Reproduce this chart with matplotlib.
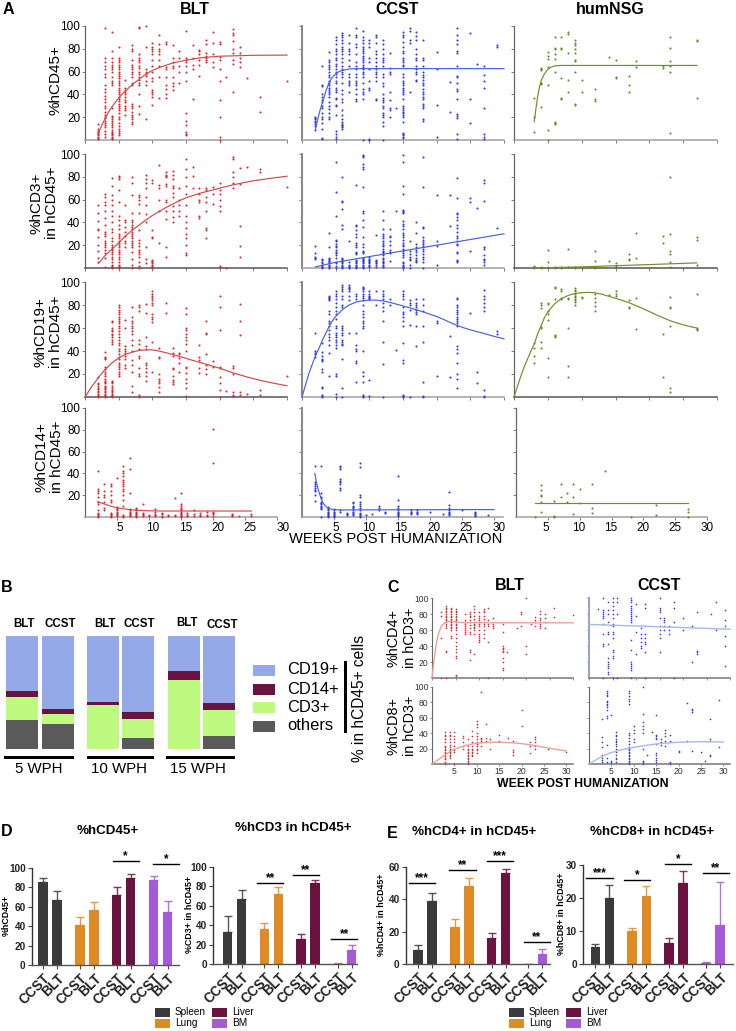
import matplotlib
matplotlib.use("Agg")
import matplotlib.pyplot as plt
from matplotlib.patches import Rectangle
from matplotlib.transforms import ScaledTranslation

plt.rcParams['font.family'] = ['Liberation Sans', 'DejaVu Sans']

# ---------- Panel A scatter data: (week, values) ----------
BLT_CD45 = [(2,[1,2,3,4,5,6,7,8,10,14]),(3,[3,5,8,11,13,15,17,19,20,22,25,28,30,33,36,39,42,45,48,55,58,62,65,68,72,98]),
 (4,[1,2,3,4,5,6,7,9,11,13,15,17,18,20,21,28,48,50,52,55,60,62,64,66,68,72,78,95]),
 (5,[4,6,8,10,12,15,18,20,24,26,28,30,32,34,36,38,40,42,44,46,48,50,52,54,56,58,60,62,64,66,68,70,72,82]),
 (6,[22,26,28,30,33,35,38,40,42,44,46,53]),(7,[14,16,18,20,22,25,28,30,32,48,50,55,58,60,62,64,66,70,78,80,83]),
 (8,[23,30,40,48,50,53,55,58,60,63,65,68,70,72,75,98,99]),(9,[18,48,52,56,58,60,62,82,100]),
 (10,[31,38,40,42,44,52,54,60,65,70,75,78,80,82,85]),(11,[37,55,65,70,75,78,80,84,92]),(12,[37,40,45,48,55,62,64,84,86]),
 (13,[44,47,50,55,63,65,68,72,83]),(14,[50,60,65,72,78]),(15,[4,5,7,13,17,24,52,60,65,68,70,72,96]),(16,[36,62,66,72,83]),
 (17,[56,66,70,75,78,79]),(18,[68,70,72,74,76,84,88]),(19,[64,68,75,85,95]),(20,[0,3,20,35,52,62,70,73,84,86]),(21,[55]),
 (22,[42,67,70,76,80,87,92,94,97]),(23,[64,68,72,76,82]),(24,[54]),(26,[25,38]),(30,[52])]
BLT_CD3 = [(2,[5,9,15,20,27,33,34,41,48,55]),(3,[1,9,13,16,18,20,22,24,28,30,32,38,44,50,55,58,62,65]),
 (4,[0,1,2,3,5,8,10,12,14,16,17,18,20,24,26,32,34,40,46,50,55,60,64,72,79]),
 (5,[0,1,2,3,5,8,10,12,14,16,18,20,22,24,26,28,30,34,38,42,46,58,68,78,80,81]),(6,[18,22,24,28,32,36,40,42,55]),
 (7,[0,3,8,14,18,20,22,24,26,28,30,32,34,36,38,40,42,48,64,75,80]),(8,[0,2,5,10,12,14,16,19,22,25,33,48,56,60,62,64]),
 (9,[4,8,18,40,47,55,62,70,75,78,82]),(10,[0,1,2,3,4,5,6,7,26,27,33,75,77]),(11,[22,50,60,70,73,90]),
 (12,[10,18,43,50,58,60,72,74,80,81,82,84]),(13,[40,45,50,54,62,66,70,72,78,82,85]),(14,[46,50,55,60,70]),
 (15,[11,13,20,26,30,35,40,46,55,65,72,80,87,96]),(16,[70,81,89]),(17,[44,46,58,60,65,70]),(18,[26,33,35,50,58,62,68,70]),
 (19,[56,65,71]),(20,[1,2,50,54,60,65,68,75]),(21,[0]),(22,[70,75,80,84,96,97]),(23,[10,19,37,74,88]),(24,[89]),(26,[84,87]),(30,[71])]
BLT_CD19 = [(2,[0,1,2,3,4,5,7,8,10,11,12,17]),(3,[0,1,2,3,4,5,7,8,9,10,12,13,14,16,18,20,22,24,26,33,34,35,39]),
 (4,[0,1,2,3,4,5,6,8,10,12,13,14,46,48,50,52,54,55,57,58,60,65,66]),
 (5,[18,20,22,24,26,28,30,33,35,37,40,42,45,47,50,52,55,57,60,62,64,66,68,70,72,74,76,78,80]),
 (6,[25,28,33,36,38,40,42,44,60,67]),(7,[4,10,22,28,32,40,45,50,55,57,60,62,64,66,70,78]),(8,[0,2,18,20,25,34,36,42,46,50,75,78,80]),
 (9,[14,18,22,25,28,30,42,44,52,73,81]),(10,[22,48,65,68,70,72,80,82,84,86,88,90,92]),(11,[4,9,12,14,16,20,34,35,43]),(12,[73,82]),
 (13,[11,13,15,18,24,25,36,38,43]),(14,[22,30,34,37,38]),(15,[1,8,12,16,21,25,26,40,46,50,52,55,58,60,72,77]),(17,[21,25,32,35,45]),
 (18,[20,24,28,37,55,56,66]),(19,[26,31]),(20,[0,6,12,17,25,26,58,78,88]),(21,[5]),(22,[1,2,4,20,25,27]),(23,[2,4,54,66,81]),(24,[3]),(26,[2,6]),(30,[18])]
BLT_CD14 = [(2,[0,1,2,3,4,6,12,14,18,22,24,26,42]),(3,[6,8,14,18,20,24,30]),(4,[0,1,2,3,4,14,16,20,24,28,30]),(5,[1,2,3,4,5,6,7,8,9,36]),
 (6,[0,1,2,10,16,20,24,26,28,30,32,34,38,40,42,47]),(7,[1,2,3,4,5,6,7,22,44,54]),(8,[0,1,2,3,4,5,6,7,8]),(9,[1,2,3,4,12]),(10,[1,2]),
 (11,[1,2,3,5,7]),(12,[0,1,3,4]),(13,[1,2]),(14,[1,2,17]),(15,[0,1,2,3,4,5,6,7,8,10,12,22]),(16,[1,2,4]),(17,[1,3,6]),(18,[1,2,4]),
 (19,[1,2,5]),(20,[1,3,4,5,50,81]),(23,[1,2,3]),(24,[1]),(26,[1,3])]

CCST_CD45 = [(2,[9,12,14,16,17,18,19,20]),(3,[1,2,10,15,18,20,24,28,30,33,35,38,40,47,48,65]),
 (4,[18,20,24,27,30,33,38,40,42,44,46,48,50,52,55,57,60,62,64,66,68,70,77]),
 (5,[1,3,5,8,22,30,31,36,37,42,44,46,50,52,55,58,60,62,65,67,70,72,75,78,80,84,88,90]),
 (6,[10,11,12,13,14,16,18,22,26,33,36,40,44,50,55,58,60,62,65,68,72,75,78,80,82,85,88,90,92,94]),
 (7,[42,48,50,52,55,58,65,70,75,78,80,85,92]),(8,[34,36,40,45,48,50,52,55,58,62,65,68,75,82,84,90,92,98]),
 (9,[0,36,40,42,45,50,55,58,60,62,64,66,68,70,72,74,76,78,80,82,85,88,90,96]),(10,[0,1,44,46,52,62,68,72,82,85,88]),
 (11,[35,36,52,55,58,60,62,65,68,72,75,78,85,90,92]),(12,[0,12,16,20,22,24,28,30,33,35,37,40,47,50,55,58,65,68,70,72,75,80,84,88]),
 (13,[20,26,28,35,42,58,60,63,76]),(14,[28]),
 (15,[2,3,4,5,6,16,20,22,24,25,26,28,30,36,40,42,44,46,48,50,52,55,58,65,66,68,70,72,76,78,82,86,90,92,95]),(16,[42,85,88,96,98]),
 (17,[52,53,58,60,62,65,70,72,75,80,88,91,95]),(18,[17,18,28,30,32,36,38,40,42,45,48,50,53,55,57,60,65,70,72,88]),(20,[3,31,62,77]),
 (22,[25,51]),(23,[1,5,19,21,23,36,43,45,50,55,56,65,76,78,84,88,92,98]),(25,[15,36,94]),(26,[67]),(27,[1,3,5,28,46,52,57,65]),(29,[82,83])]
CCST_CD3 = [(2,[8,9,10,13,19]),(3,[0,1,2,3,4,5,7,8]),(4,[0,1,2,3,4,5,6,7,8,9,18,31]),(5,[0,2,4,5,9,11,13,14,16,18,19,21,24,25,46,67,93]),
 (6,[0,1,2,3,4,5,6,7,8,9,34,38,52,58,59,80]),(7,[0,1,2,3,5,24]),(8,[0,1,2,3,4,5,6,7,12,13,14,18,20,22,27,30,33,37,38,73]),
 (9,[0,1,2,3,4,5,6,7,8,9,13,14,15,18,21,27,36,42,48,50,71,87,89,91,97,98,99]),(10,[1,2,3,4,5,6,7,8,10]),(11,[1,3,4,5,6,7,29]),
 (12,[1,2,3,4,5,6,8,9,11,13,14,15,17,19,20,22,24,26,28,30,34,42,50]),(13,[6,13,14,16,20,24,27,28,34]),(14,[50]),
 (15,[0,1,2,3,4,5,10,11,13,15,17,19,20,22,25,27,29,31,34,37,39,41,48,49,50,51,65,72,93,99]),(16,[0,3,7,8,10,12,15,24]),
 (17,[5,6,7,9,11,14,16,18,21,31,40]),(18,[0,5,8,10,12,15,17,19,21,23,25,27,35,36,71,97]),(20,[3,19,24,64]),(22,[37,64]),
 (23,[5,6,7,13,14,20,21,24,26,28,32,35,38,42,45,47,48,61,79]),(25,[15,58,61]),(26,[53]),(27,[3,5,7,8,11,17,18,59,75,77]),(29,[35])]
CCST_CD19 = [(2,[35,37,38,40,56]),(3,[0,1,2,8,9,22,24,31,32,33,36,39,47]),(4,[18,38,45,50,52,55,58,62,64,66,72,75,84,85,86,87,88]),
 (5,[0,3,18,20,43,45,48,50,52,54,56,60,62,68,72,75,78,82,85,88,90,92]),(6,[0,8,33,45,46,48,50,54,56,58,60,62,78,80,85,88,92,94,96,97]),
 (7,[56,84,88,92,94,95,96,97]),(8,[13,30,31,40,42,45,56,85,88,90]),
 (9,[0,1,2,13,18,22,40,60,62,64,66,70,72,75,80,84,86,88,90,92,94,95,96]),(10,[1,15,85,86,87,88,90,92]),(11,[80,92]),
 (12,[0,29,48,66,75,78,82,85,88,90,92]),(13,[80,85]),(14,[41]),(15,[0,1,2,30,32,47,62,66,70,72,74,78,85,88,90,92]),(16,[0,63,76,80,82,84]),
 (17,[44,62,72,74,76,78,80,82,85]),(18,[0,1,13,48,62,75,80,85]),(20,[18,64,66]),(22,[17,53]),
 (23,[8,16,20,30,38,42,44,62,64,66,68,70,72,74,76,78,80,85,86]),(25,[73]),(26,[12,22]),(27,[0,1,6,75,78,82,85,88,93]),(29,[55,57])]
CCST_CD14 = [(2,[15,20,24,25,27,28,30,32,47]),(3,[0,7,8,9,10,12,13,14,17,18,22,47]),(4,[0,1,2,3,4,5,6,7,8,9]),(5,[0,1,2,3,4,5,6,7]),
 (6,[5,6,25,27,30,32,33,35,44,46,47]),(7,[2,3,4]),(8,[2,3,4,5,6,8,9,10,13,14]),(9,[0,1,2,3,4,6,8,10,12,14,18,20,46,50]),(10,[2]),(11,[3]),
 (12,[6,8,10]),(13,[4,5]),(15,[1,2,3,4,5,6,8,10,16,38]),(17,[3,4,5,6]),(18,[3,4,5,6]),(20,[5]),(22,[3]),(23,[2,3,4,5,6,8,11,23]),(25,[6]),
 (27,[1,2,3,4,5]),(29,[2])]

NSG_CD45 = [(3,[7,20,37]),(4,[29,49,50,61,62,63]),(5,[0,9,48,64,71,74,77]),(6,[14,15,16,60,71,75,80,81,90]),(7,[36,37,54,80,81,90]),
 (8,[42,53,76,93,95]),(9,[31,32,60,69,70,76,80,83,85,88]),(10,[42,53]),(12,[34,36,45]),(14,[73]),(15,[54,55,70]),(17,[42,48,56]),(18,[64,69]),
 (22,[63,65]),(23,[6,60,65,69,81,90]),(27,[37,87,88])]
NSG_CD3 = [(3,[0,1,2]),(4,[0,1]),(5,[0,1,5,16]),(6,[0,1]),(7,[0,1]),(8,[1,17]),(9,[0,1]),(10,[0]),(12,[0,1,6,15]),(14,[6]),(15,[1,2,4]),
 (17,[7,8,12]),(18,[9,31]),(22,[22,28]),(23,[1,5,12,15,30,80]),(27,[3,25,27])]
NSG_CD19 = [(3,[30,36,43,47]),(4,[43,48,60,61,77,80,82]),(5,[17,34,67,72,75,81,82]),(6,[52,53,54,85,95,96]),(7,[85,86,92,94]),(8,[17,27,60,85,86]),
 (9,[80,83,84,85,87,88,90,92,93,95]),(10,[86,87]),(12,[75,79,83,86,90]),(14,[89]),(15,[88,90,92]),(17,[77,78,84]),(18,[59,86]),(22,[17,55]),
 (23,[4,8,62,77,78,87]),(27,[58,59,60,90])]
NSG_CD14 = [(3,[0]),(4,[5,14,19,20,25,29]),(6,[0,1,15]),(7,[18,30]),(8,[14,22]),(9,[3,18,30]),(10,[13,26]),(12,[4,8,30]),(14,[42]),(18,[0]),
 (22,[2,11]),(27,[0,5,7])]

# ---------- Panel A fitted curves ----------
C_BLT_CD45 = ([2,2.5,3,3.5,4,5,6,7,8,9,10,11,12,13,15,17,20,25,30],[6,13,19,24.5,29,37,43,48.5,53,57.5,61,63.5,65.5,67.5,70,72,73.5,74.3,74.5])
C_BLT_CD3 = ([2,3,4,5,6,7,8,9,10,11,12,13,14,15,16,17,18,20,22,25,28,30],[4,11,16.5,22,28,33,37.5,42,46,49.5,53,56,59,61.5,63.5,65.5,67,70,73,76.5,79,80.5])
C_BLT_CD19 = ([0,.5,1,1.5,2,3,4,5,6,7,8,9,10,11,12,13,14,15,16,18,20,22,24,26,28,30],[0,4.5,9,13,17,24,29.5,34,37,39,40.5,41,41,40,38.5,37,35.3,33.6,31.8,28.5,25,21,17.5,14.5,12,9.8])
C_BLT_CD14 = ([2,3,4,5,6,7,8,10,12,15,26],[14,12,10,8.5,7.5,6.8,6.2,5.7,5.5,5.5,5.5])
C_CCST_CD45 = ([2,2.25,2.5,2.75,3,3.5,4,4.5,5,5.5,6,7,8,30],[9,16,22,27.5,32,42,50,55,58,60,61,62.3,62.6,62.6])
C_CCST_CD3 = ([2,5,10,15,20,25,30],[1,5,10,15,20,25,30])
C_CCST_CD19 = ([0,.5,1,1.5,2,2.5,3,3.5,4,4.5,5,6,7,8,9,10,11,12,13,14,15,16,17,18,19,20,21,22,23,24,25,26,27,28,29,30],
 [0,10,20,28,36,42,49,55,61,66,70,76,80,82.5,83.7,84.2,84.3,83.6,82.3,80.8,79.2,77.5,75.8,74,72,70,67.5,64.8,62.3,60.2,58.4,56.8,55.3,53.6,52,50.6])
C_CCST_CD14 = ([2,2.25,2.5,2.75,3,3.25,3.5,3.75,4,4.5,5,6,30],[40,32,26,21,17,13.5,11,9.5,8.6,7.3,6.8,6.5,6.8])
C_NSG_CD45 = ([3,3.25,3.5,3.75,4,4.5,5,5.5,6,7,27],[16,28,38,46,52,58,62,64,65,65.4,65.4])
C_NSG_CD3 = ([3,5,10,15,20,27],[0,0.3,1,2,3,4.5])
C_NSG_CD19 = ([0,.5,1,1.5,2,2.5,3,3.5,4,4.5,5,6,7,8,9,10,11,12,13,14,15,16,17,18,19,20,21,22,23,24,25,26,27],
 [0,9,18,26,33,40,46,55,62,69,74,81,85.5,88.3,90,90.7,91,90.6,89.3,87.6,85.8,84,82,79.5,77,74.3,71.5,69,66.5,64.5,62.8,61.3,60])
C_NSG_CD14 = ([3,27],[13.3,13.3])

# ---------- Panel B ----------
B_labels = ['BLT','CCST','BLT','CCST','BLT','CCST']
B_others = [25.7,22.1,0,10,0,11.5]
B_cd3 = [20.6,8.6,38.9,16.2,61,23]
B_cd14 = [5.3,4.4,2.7,6.8,8,6.5]
B_cd19 = [48.4,64.9,58.4,67,31,59]
B_weeks = ['5 WPH','10 WPH','15 WPH']

# ---------- Panel C ----------
C4_BLT = [(2,[0,50,78,82]),(3,[0,33,34,62,65,68,70,72,74,76,78,80,82,84,86,88,90]),(4,[50,52,60,62,64,66,68,70,72,74,76,78,80,82,84,86,88]),
 (5,[3,4,25,28,32,36,40,45,50,55,60,62,64,66,68,70,72,74,76,78,80,82,84,86]),(7,[55,58,60,62,65,68,70,72,80]),(8,[23,33,35,55,58,62,66,70,72,76,78,80,82]),
 (9,[30,55,60,62,64,66,68,70,74,78,82,86,90]),(10,[45,47,50,52,55,60,65,68,70,72,75,78,82]),(11,[50,55,60,65,68,70,74,78,82,84,86]),
 (12,[0,45,65,68,72,88]),(13,[62,65,68,75]),(15,[10,12,20,25,32,34,36,38,40,57,67]),(16,[32]),(18,[62]),(19,[65,80,82]),(20,[30,40,100]),(21,[68]),
 (22,[65,70,72,76]),(23,[62,65,68,72,75,80,84]),(24,[62,70,75,80]),(26,[76,88]),(30,[79])]
C4_CCST = [(2,[86]),(3,[0,40,42,55,68,75,78,80,83,85,100]),(4,[5,8,12,15,18,20,25,42,55,58,70,80,85,95]),(5,[0,25,28,32,35,50,55,58,65,68,75,80,85,90,95,100]),
 (6,[0,100,95,80]),(9,[0,10,12,15,18,20,35,48,70,72,75,78,80,82,85,88,90,95,98,100]),(10,[30,58,78,92]),(11,[38,40,45,50,55,62]),(12,[0,33,42,45,50,55,65,88,92]),
 (15,[32,50,55,60,65,75,82,85,87,100]),(16,[60,65,70,72,75]),(17,[55,60,65]),(18,[0,70,87,95]),(20,[60,75]),(22,[20,65]),(23,[30,32,34,82]),(26,[80]),(27,[60,95]),
 (29,[15,40,52,65,72,85])]
C8_BLT = [(3,[0,3,6,8,10,12,14,16,18,20,22,24,28,32,36,38,42]),(4,[8,10,12,14,16,18,20,22,25,28,32,36,38,42]),(5,[0,16,18,20,24,28,32,36,42]),(7,[20,24,28,34,36]),
 (8,[0,2,4,6,8,10,12,14,16,18,20,24,32]),(9,[10,12,14,16,18,20,24,28,36,43]),(10,[14,18,20,24,26,28,32,36,40,48,52,56]),(11,[24,28,30,32,34,94]),(12,[30,34,52]),
 (13,[20,28,32]),(15,[30,38]),(17,[34]),(18,[12,16,18,30]),(20,[50,70]),(22,[14,24,28]),(23,[20,24,28,32,35]),(26,[20]),(30,[15])]
C8_CCST = [(3,[2,5,8,12,22,28,35,58]),(4,[2,8,25,60,62,70,74,76,78,80,82,88,90,92,95]),(5,[2,4,64]),(6,[2,6,8,12,16,20,24,26,28,30,32,36,38,41]),
 (9,[0,2,4,6,8,10,12,14,16,18,20,22,26,30,34,38,40,78,82,85,88,92,95]),(10,[28,32,40,44,50]),(12,[0,2,4,20,40,45,50,55,65,100]),(13,[12]),(14,[41]),
 (15,[2,5,8,12,14,26,32,34,36,38,64]),(16,[25,28,32]),(17,[24,30,36,40,44]),(18,[0,3,30,38]),(20,[15,17]),(22,[30,79]),(23,[17,67,70,72]),(25,[16]),(26,[4]),
 (27,[10,12,30,33,59]),(29,[22,83])]
CC4_BLT = ([0,.25,.5,.75,1,1.25,1.5,2,2.5,3,4,5,7,30],[0,14,25,36,45,52,57,65,68,70,71,70,69,69])
CC4_CCST = ([0,10,20,30],[67,65,63,61])
CC8_BLT = ([0,1,2,3,4,5,6,7,8,9,10,12,14,16,18,20,22,25,28,30],[0,4,8,12,16,19,21.2,23,24.6,26,27,28,28.3,28,27.5,26.5,24.8,21.8,18.8,17])
CC8_CCST = ([0,1,2,3,4,5,6,7,9,12,15,18,20,25,30],[0,3.5,7,10,12.7,15,16.5,18,20.5,23.5,26,27.5,28.2,29,28.5])

# ---------- Panels D / E ----------
TISSUES = ['Spleen','Lung','Liver','BM']
D1_val = [86,67,41,57,72,90,88,55]
D1_top = [90,76,49,65,80,94,92,66]
D2_val = [33,67,36,72,26,84,0.5,14]
D2_top = [49,76,42,79,31,87,1,20]
E1_val = [8.5,39,23,48,16,56,0.2,6]
E1_top = [12,44,28,53,19,58.5,0.3,9]
E2_val = [5.3,20,10,20.7,6.5,24.4,0.3,11.7]
E2_top = [6,24,11,23.7,8,28.3,0.5,25]
D1_sig = [(2,107.5,'*',-0.29),(3,104.5,'*',-0.05)]
D2_sig = [(1,84,'**',-0.52),(2,91.5,'**',-0.57),(3,25.6,'**',-0.45)]
E1_sig = [(0,50,'***',-0.67),(1,58,'**',-0.38),(2,63.7,'***',-0.36),(3,13.5,'**',-0.33)]
E2_sig = [(0,26,'***',-0.64),(1,25.6,'*',-0.57),(2,30.4,'*',-0.29),(3,27.7,'**',-0.21)]

W, H = 736, 1031
fig = plt.figure(figsize=(W/100, H/100), dpi=100)
RED, BLUE, GREEN = '#D9262B', '#2A38E6', '#5C8A1E'
LRED, LBLUE, LGREEN = '#CF4A48', '#4A5FDC', '#6E8F2A'
TISSUE_COL = ['#3A3A3A', '#E08A24', '#6B1340', '#A55BD9']

def ax_px(x0, x1, ytop, ybase):
    return fig.add_axes([x0/W, 1-ybase/H, (x1-x0)/W, (ybase-ytop)/H])

def ftext(x, y, s, **kw):
    kw.setdefault('ha', 'center'); kw.setdefault('va', 'center')
    return fig.text(x/W, 1-y/H, s, **kw)

def flat(cols):
    xs, ys = [], []
    for w, vals in cols:
        xs += [w]*len(vals); ys += vals
    return xs, ys

def scatter_panel(ax, cols, curve, col, lcol, xlim=(0, 30), left='#777777', bottom='#999999', lw=1.0, cw=0.85, s=2.2):
    x, y = flat(cols)
    ax.scatter(x, y, s=s, c=col, linewidths=0, zorder=3, clip_on=False)
    ax.plot(curve[0], curve[1], color=lcol, lw=cw, zorder=4, clip_on=False)
    ax.set_xlim(*xlim); ax.set_ylim(0, 100)
    for sp in ('top', 'right'):
        ax.spines[sp].set_visible(False)
    ax.spines['left'].set_color(left); ax.spines['bottom'].set_color(bottom)
    ax.spines['left'].set_linewidth(lw); ax.spines['bottom'].set_linewidth(1.1)
    ax.set_xticks(range(0, 31, 5)); ax.set_yticks(range(20, 101, 20))
    ax.tick_params(length=2, width=0.6, color='#666666', labelbottom=False, labelleft=False, pad=1.5, labelsize=8.5)

rows = [(26,140),(154,268),(282,397),(408,517)]
colsA = [(85,287),(302,504),(514,717)]
dataA = [
 [(BLT_CD45,C_BLT_CD45),(CCST_CD45,C_CCST_CD45),(NSG_CD45,C_NSG_CD45)],
 [(BLT_CD3,C_BLT_CD3),(CCST_CD3,C_CCST_CD3),(NSG_CD3,C_NSG_CD3)],
 [(BLT_CD19,C_BLT_CD19),(CCST_CD19,C_CCST_CD19),(NSG_CD19,C_NSG_CD19)],
 [(BLT_CD14,C_BLT_CD14),(CCST_CD14,C_CCST_CD14),(NSG_CD14,C_NSG_CD14)],
]
pal = [(RED,LRED),(BLUE,LBLUE),(GREEN,LGREEN)]
row4 = [(85,277,(0,30),(2.4,0.12)),(302,503,(0,31.4),(1,0.13)),(516,707,(0,30),(-2,0.06))]
for r,(yt,yb) in enumerate(rows):
    for c,(x0,x1) in enumerate(colsA):
        xlim=(0,30)
        if r==3:
            x0,x1,xlim,(d0,d1)=row4[c]
        ax=ax_px(x0,x1,yt,yb)
        thick=(c==1)
        scatter_panel(ax,dataA[r][c][0],dataA[r][c][1],pal[c][0],pal[c][1],xlim=xlim,
                      left='#8A8A8A' if thick else '#666666',
                      bottom='#A0A0A0' if (r in (0,3) or c==1) else '#555555',lw=1.5 if thick else 0.9)
        if c==0:
            ax.tick_params(labelleft=True)
        if r==3:
            ax.set_xticks(range(5,31,5))
            ax.tick_params(labelbottom=True)
            ax.set_xticklabels([str(v) for v in range(5,31,5)])
            for lab,v in zip(ax.get_xticklabels(),range(5,31,5)):
                lab.set_transform(lab.get_transform()+ScaledTranslation((d0+d1*v)/100,0,fig.dpi_scale_trans))

ftext(195,9,'BLT',fontsize=11.5,fontweight='bold')
ftext(397,9,'CCST',fontsize=11.5,fontweight='bold')
ftext(610,9,'humNSG',fontsize=11.5,fontweight='bold')
ftext(55,80,'%hCD45+',rotation=90,fontsize=11)
ftext(44,203,'%hCD3+\nin hCD45+',rotation=90,fontsize=11,linespacing=1.1)
ftext(48,332,'%hCD19+\nin hCD45+',rotation=90,fontsize=11,linespacing=1.1)
ftext(49,457,'%hCD14+\nin hCD45+',rotation=90,fontsize=11,linespacing=1.1)
ftext(396,539,'WEEKS POST HUMANIZATION',fontsize=10.6)
for x,y,s in [(8,9,'A'),(7,587,'B'),(393,587,'C'),(7,832,'D'),(392,833,'E')]:
    ftext(x,y,s,fontsize=11.5,fontweight='bold')

# ---------- Panel B ----------
axB = ax_px(0,240,636,749)
centers = [22,57.5,103,138,183.5,218.5]
STACK_COL = ['#5A5A5A','#BEFA80','#6B1340','#95A8E8']
base=[0]*6
for vals,colr in zip([B_others,B_cd3,B_cd14,B_cd19],STACK_COL):
    axB.bar(centers,vals,width=32,bottom=base,color=colr,linewidth=0)
    base=[a+b for a,b in zip(base,vals)]
axB.set_xlim(0,240); axB.set_ylim(0,100); axB.axis('off')
for x,y,s in zip([24,60,105,139,187,222],[624,624,624,624,623,625],B_labels):
    ftext(x,y,s,fontsize=8.3,fontweight='bold')
for (a,b),cx,s in zip([(4,74),(87,154),(166,235)],[39,119,198],B_weeks):
    fig.add_artist(Rectangle((a/W,1-758.5/H),(b-a)/W,3/H,transform=fig.transFigure,color='black',lw=0))
    ftext(cx,769,s,fontsize=10.8)
for y,s,colr in zip([670,689,707,726],['CD19+','CD14+','CD3+','others'],STACK_COL[::-1]):
    fig.add_artist(Rectangle((253/W,1-(y+5.5)/H),22/W,11/H,transform=fig.transFigure,color=colr,lw=0))
    ftext(287,y,s,ha='left',fontsize=11.9)
fig.add_artist(Rectangle((343.5/W,1-733/H),3/W,72/H,transform=fig.transFigure,color='black',lw=0))
ftext(359,698,'% in hCD45+ cells',rotation=90,fontsize=11.2)

# ---------- Panel C ----------
PRED, PBLUE = '#E2A596', '#A6B8EC'
specC = [(C4_BLT,CC4_BLT,432,573,598,678,(0,30),RED,PRED),(C4_CCST,CC4_CCST,589,730,598,678,(0,30),BLUE,PBLUE),
         (C8_BLT,CC8_BLT,432,573,687,764,(0,31.5),RED,PRED),(C8_CCST,CC8_CCST,589,730,687,764,(0,31.5),BLUE,PBLUE)]
for i,(pts,cur,x0,x1,yt,yb,xl,col,lc) in enumerate(specC):
    ax=ax_px(x0,x1,yt,yb)
    scatter_panel(ax,pts,cur,col,lc,xlim=xl,s=1.4,left='#666666' if i!=1 else '#9AA6C0',bottom='#777777',
                  lw=0.8 if i!=1 else 1.5,cw=1.0)
    ax.tick_params(length=1.5,width=0.5,labelsize=6.2,pad=1,labelcolor='#333333')
    if i in (0,2):
        ax.tick_params(labelleft=True)
    if i>=2:
        ax.set_xticks(range(5,31,5)); ax.tick_params(labelbottom=True)
        ax.set_xticklabels([str(v) for v in range(5,31,5)])
ftext(510,585,'BLT',fontsize=11.5,fontweight='bold')
ftext(659,585,'CCST',fontsize=11.5,fontweight='bold')
ftext(402,638,'%hCD4+\nin hCD3+',rotation=90,fontsize=10.4,linespacing=1.22)
ftext(402,726,'%hCD8+\nin hCD3+',rotation=90,fontsize=10.4,linespacing=1.22)
ftext(583,784,'WEEK POST HUMANIZATION',fontsize=8.8,fontweight='bold')

# ---------- Panels D / E ----------
def bar_panel(x0,x1,yt,yb,vals,tops,ymax,ystep,xmin,xmax,sig,ylabel,ylx):
    ax=ax_px(x0,x1,yt,yb)
    pos=[g*2.62+k for g in range(4) for k in (0,1)]
    cols=[TISSUE_COL[g] for g in range(4) for k in (0,1)]
    ax.bar(pos,vals,width=0.67,color=cols,linewidth=0,zorder=2)
    for p,v,t,cl in zip(pos,vals,tops,cols):
        ax.errorbar([p],[v],yerr=[[0],[t-v]],color=cl,capsize=3,lw=1,capthick=1,fmt='none',zorder=1,alpha=0.85)
    ax.set_xlim(xmin,xmax); ax.set_ylim(0,ymax)
    ax.set_xticks(pos)
    ax.set_xticklabels(['CCST','BLT']*4,rotation=45,ha='right',va='top',rotation_mode='anchor',fontsize=9.8,fontweight='bold',color='#222222')
    ax.set_yticks(range(0,ymax+1,ystep))
    ax.set_yticklabels(ax.get_yticks(),fontsize=7.2,fontweight='bold',color='#222222')
    ax.tick_params(axis='x',length=3,width=0.8,pad=1.5,color='#444444')
    ax.tick_params(axis='y',length=3,width=0.8,pad=1.5,color='#444444')
    for sp in ('top','right'):
        ax.spines[sp].set_visible(False)
    ax.spines['left'].set_linewidth(1); ax.spines['left'].set_color('#333333')
    ax.spines['bottom'].set_linewidth(1); ax.spines['bottom'].set_color('#555555')
    for g,y,stars,sh in sig:
        a=g*2.62+sh; b=a+1.86
        ax.plot([a,b],[y,y],color='black',lw=1,clip_on=False,zorder=5)
        ax.text((a+b)/2,y-ymax*0.012,stars,ha='center',va='bottom',fontsize=8.5,fontweight='bold',clip_on=False,linespacing=1)
    ftext(ylx,(yt+yb)/2-1,ylabel,rotation=90,fontsize=6.4,fontweight='bold')
    return ax

bar_panel(32,179,868,965,D1_val,D1_top,100,20,-0.786,9.67,D1_sig,'%hCD45+',6)
bar_panel(213,357,867,964,D2_val,D2_top,100,20,-1.05,9.24,D2_sig,'%CD3+ in hCD45+',189)
bar_panel(406,550,867,964,E1_val,E1_top,60,20,-0.857,9.4,E1_sig,'%hCD4+ in hCD45+',382)
bar_panel(583,733,865,964,E2_val,E2_top,30,10,-0.88,9.79,E2_sig,'%hCD8+ in hCD45+',561)
ftext(108,831,'%hCD45+',fontsize=9.6,fontweight='bold')
ftext(293,828,'%hCD3 in hCD45+',fontsize=9.6,fontweight='bold')
ftext(474,832,'%hCD4+ in hCD45+',fontsize=9.6,fontweight='bold')
ftext(652,832,'%hCD8+ in hCD45+',fontsize=9.6,fontweight='bold')

def tissue_legend(x1,x2):
    for i,(name,cl) in enumerate(zip(TISSUES,TISSUE_COL)):
        lx=x1 if i<2 else x2
        y=1012 if i%2==0 else 1023
        fig.add_artist(Rectangle((lx/W,1-(y+4.5)/H),14.5/W,9/H,transform=fig.transFigure,color=cl,lw=0))
        ftext(lx+20,y,name,ha='left',fontsize=7.2)
tissue_legend(155,212)
tissue_legend(509,566)

fig.savefig('out.png',dpi=100)
